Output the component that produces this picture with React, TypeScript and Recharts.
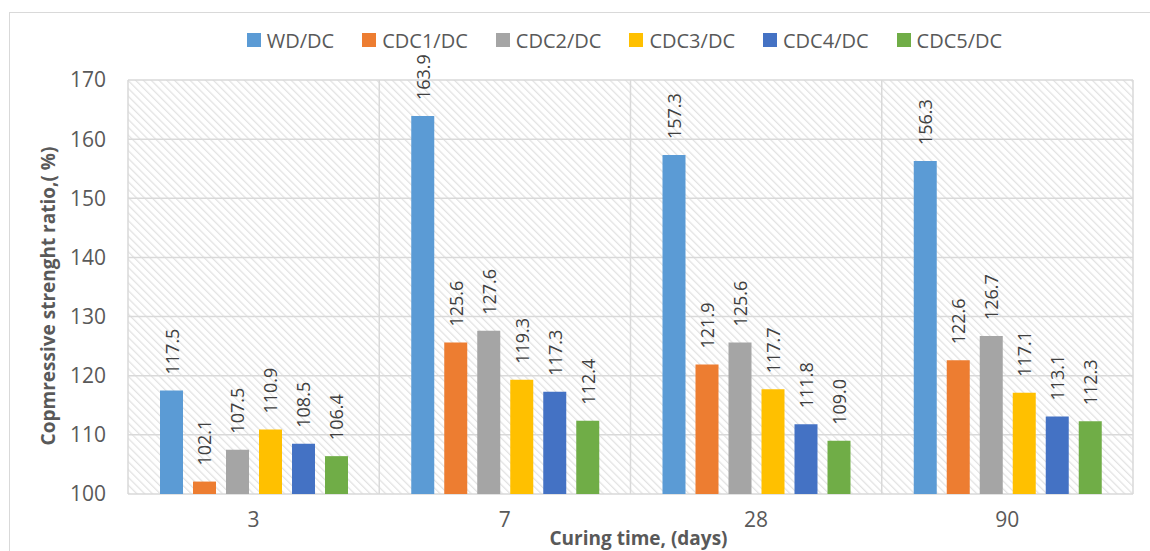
import React from 'react';
import { BarChart, Bar, XAxis, YAxis, CartesianGrid, Legend, LabelList } from 'recharts';

// Curing ages (days)
const days = ['3', '7', '28', '90'];

// Compressive strength ratios (%) for each mix relative to DC
const wdDc = [117.5, 163.9, 157.3, 156.3];
const cdc1Dc = [102.1, 125.6, 121.9, 122.6];
const cdc2Dc = [107.5, 127.6, 125.6, 126.7];
const cdc3Dc = [110.9, 119.3, 117.7, 117.1];
const cdc4Dc = [108.5, 117.3, 111.8, 113.1];
const cdc5Dc = [106.4, 112.4, 109.0, 112.3];

const yTicks = [100, 110, 120, 130, 140, 150, 160, 170];

const seriesNames = ['WD/DC', 'CDC1/DC', 'CDC2/DC', 'CDC3/DC', 'CDC4/DC', 'CDC5/DC'];
const seriesKeys = ['wd', 'cdc1', 'cdc2', 'cdc3', 'cdc4', 'cdc5'];
const seriesColors = ['#5B9BD5', '#ED7D31', '#A5A5A5', '#FFC000', '#4472C4', '#70AD47'];
const seriesValues = [wdDc, cdc1Dc, cdc2Dc, cdc3Dc, cdc4Dc, cdc5Dc];

const data = days.map((day, i) => {
  const row: Record<string, string | number> = { day };
  seriesKeys.forEach((k, s) => {
    row[k] = seriesValues[s][i];
  });
  return row;
});

const FONT = '"Open Sans", "DejaVu Sans", sans-serif';
const TEXT = '#595959';

const ValueLabel = (props: any) => {
  const { x, y, width, value } = props;
  const cx = Number(x) + Number(width) / 2;
  const ty = Number(y) - 16;
  return (
    <text
      x={cx}
      y={ty}
      transform={`rotate(-90, ${cx}, ${ty})`}
      textAnchor="start"
      dominantBaseline="central"
      fontFamily={FONT}
      fontSize={18}
      fill="#404040"
    >
      {Number(value).toFixed(1)}
    </text>
  );
};

const LegendContent = () => (
  <div
    style={{
      display: 'flex',
      justifyContent: 'center',
      alignItems: 'center',
      height: 40,
      paddingLeft: 99,
      fontFamily: FONT,
      fontSize: 20,
      color: TEXT,
    }}
  >
    {seriesNames.map((name, i) => (
      <div key={name} style={{ display: 'flex', alignItems: 'center', marginRight: i < seriesNames.length - 1 ? 28 : 0 }}>
        <span style={{ width: 14, height: 14, background: seriesColors[i], marginRight: 6, display: 'inline-block' }} />
        <span>{name}</span>
      </div>
    ))}
  </div>
);

const YTitle = (props: any) => {
  const vb = props.viewBox || {};
  const cx = 48;
  const cy = Number(vb.y) + Number(vb.height) / 2 + 9;
  return (
    <text
      x={cx}
      y={cy}
      transform={`rotate(-90, ${cx}, ${cy})`}
      textAnchor="middle"
      dominantBaseline="central"
      fontFamily={FONT}
      fontWeight={700}
      fontSize={19}
      fill={TEXT}
    >
      Copmressive strenght ratio,( %)
    </text>
  );
};

const XTitle = (props: any) => {
  const vb = props.viewBox || {};
  const cx = Number(vb.x) + Number(vb.width) / 2 + 8;
  return (
    <text x={cx} y={545} textAnchor="middle" fontFamily={FONT} fontWeight={700} fontSize={19} fill={TEXT}>
      Curing time, (days)
    </text>
  );
};

export default function App() {
  return (
    <div style={{ position: 'absolute', left: 0, top: 0, width: 1150, height: 551, background: '#fff', overflow: 'hidden' }}>
      <svg width={0} height={0} style={{ position: 'absolute' }}>
        <defs>
          <pattern id="hatch" patternUnits="userSpaceOnUse" width={5.5} height={5.5} patternTransform="rotate(-45)">
            <rect width={5.5} height={5.5} fill="#ffffff" />
            <line x1={0} y1={0} x2={0} y2={5.5} stroke="#e2e2e2" strokeWidth={2.5} />
          </pattern>
        </defs>
      </svg>
      <div
        style={{
          position: 'absolute',
          left: 9,
          top: 12,
          width: 1160,
          height: 560,
          border: '1.5px solid #d9d9d9',
          boxSizing: 'border-box',
        }}
      />
      <div style={{ position: 'absolute', left: 0, top: 0 }}>
        <BarChart
          width={1150}
          height={551}
          data={data}
          margin={{ top: 40, right: 17, bottom: 0, left: 68 }}
          barSize={23}
          barGap={10}
        >
          <CartesianGrid
            fill="url(#hatch)"
            stroke="#d9d9d9"
            strokeWidth={1.5}
            verticalCoordinatesGenerator={({ offset }: any) =>
              [0, 1, 2, 3, 4].map((i) => offset.left + (i * offset.width) / 4)
            }
          />
          <XAxis
            dataKey="day"
            height={57}
            axisLine={false}
            tickLine={false}
            tickMargin={12}
            tick={{ fontFamily: FONT, fontSize: 21, fill: TEXT }}
            label={{ content: <XTitle /> }}
          />
          <YAxis
            width={60}
            domain={[100, 170]}
            ticks={yTicks}
            axisLine={false}
            tickLine={false}
            tickMargin={16}
            tick={{ fontFamily: FONT, fontSize: 21, fill: TEXT }}
            label={{ content: <YTitle /> }}
          />
          <Legend verticalAlign="top" wrapperStyle={{ top: 20, left: 0, width: 1150 }} content={<LegendContent />} />
          {seriesKeys.map((k, i) => (
            <Bar key={k} dataKey={k} name={seriesNames[i]} fill={seriesColors[i]} isAnimationActive={false}>
              <LabelList dataKey={k} content={<ValueLabel />} />
            </Bar>
          ))}
        </BarChart>
      </div>
    </div>
  );
}
